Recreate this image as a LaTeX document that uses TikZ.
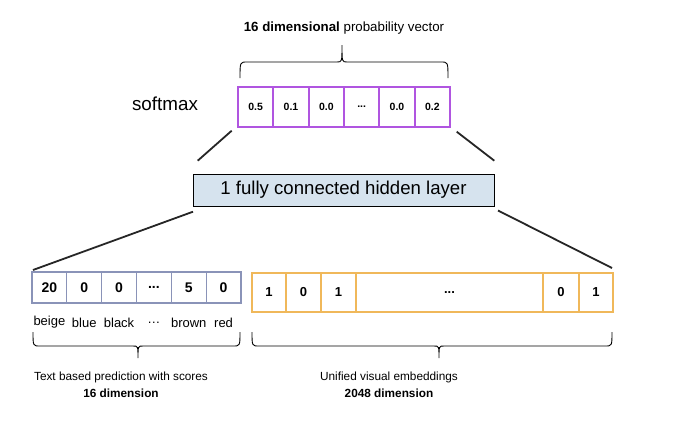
\documentclass[tikz,border=0pt]{standalone}
\usepackage{fontspec}
\setmainfont{Liberation Sans}
\definecolor{purp}{HTML}{B055E0}
\definecolor{orng}{HTML}{F0B85A}
\definecolor{slate}{HTML}{8A93B8}
\definecolor{hidfill}{HTML}{D6E3EE}
\newcommand{\mybrace}[6]{% x1 x2 yend yline ytip xtip
  \draw[line width=0.9pt] (#1,#3) .. controls (#1,#4) .. (#1+7,#4) -- (#6-5,#4)
     .. controls (#6,#4) .. (#6,#5) .. controls (#6,#4) .. (#6+5,#4) -- (#2-7,#4)
     .. controls (#2,#4) .. (#2,#3);}
\newcommand{\threedots}{...}
\begin{document}
\begin{tikzpicture}[x=1pt,y=-1pt,
  pcell/.style={draw=purp,line width=2pt,minimum width=35.33pt,minimum height=40pt,inner sep=0pt,font=\bfseries\fontsize{10.5}{12}\selectfont},
  scell/.style={draw=slate,line width=1.3pt,minimum width=34.83pt,minimum height=31pt,inner sep=0pt,font=\bfseries\fontsize{14}{16}\selectfont},
  ocell/.style={draw=orng,line width=2.5pt,minimum height=39pt,inner sep=0pt,font=\bfseries\fontsize{13}{15}\selectfont},
  lab/.style={inner sep=0pt,font=\fontsize{13}{15}\selectfont},
  captext/.style={inner sep=0pt,align=center,font=\fontsize{11.8}{17}\selectfont},
  fan/.style={line width=1.8pt,black!85}]
\useasboundingbox[fill=white] (0,0) rectangle (697,439);
% top vector
\foreach \i/\t in {1/0.5,2/0.1,3/0.0,4/\threedots,5/0.0,6/0.2}{
  \node[pcell] (p\i) at ({238+35.33*(\i-0.5)},107) {\t};}
\node[inner sep=0pt,font=\fontsize{13.3}{15}\selectfont] (ptitle) at (344,28) {\textbf{16 dimensional} probability vector};
\mybrace{240}{448}{78}{62}{45}{342}
\node[inner sep=0pt,font=\fontsize{18.8}{20}\selectfont] (soft) at (165,104) {softmax};
% hidden layer
\node[draw=black,line width=1pt,fill=hidfill,minimum width=301pt,minimum height=32pt,inner sep=0pt,font=\fontsize{18.6}{20}\selectfont] (hid) at (343.5,190) {1 fully connected hidden layer};
% left vector
\foreach \i/\t/\l in {1/20/beige,2/0/blue,3/0/black,4/\threedots/\ldots,5/5/brown,6/0/red}{
  \node[scell] (s\i) at ({32+34.83*(\i-0.5)},287.5) {\t};
  \node[lab] (l\i) at ({32+34.83*(\i-0.5)},322.5) {\l};}
\mybrace{33}{240}{332}{346}{358}{138}
\node[captext] (lcap) at (121,385) {Text based prediction with scores\\\textbf{16 dimension}};
% right vector
\node[ocell,minimum width=34pt] (o1) at (269,292.5) {1};
\node[ocell,minimum width=35pt] (o2) at (303.5,292.5) {0};
\node[ocell,minimum width=35pt] (o3) at (338.5,292.5) {1};
\node[ocell,minimum width=187pt] (o4) at (449.5,292.5) {\threedots};
\node[ocell,minimum width=36pt] (o5) at (561,292.5) {0};
\node[ocell,minimum width=34pt] (o6) at (596,292.5) {1};
\mybrace{252}{612}{332}{346}{358}{439}
\node[captext] (rcap) at (389,385) {Unified visual embeddings\\\textbf{2048 dimension}};
% fan lines
\coordinate (a1) at (197.7,160.7); \coordinate (a2) at (231.7,130.7);
\coordinate (b1) at (456.7,131.7); \coordinate (b2) at (494.3,160.7);
\coordinate (c1) at (193,211.7); \coordinate (c2) at (33,270);
\coordinate (d1) at (498,210.5); \coordinate (d2) at (612,268);
\draw[fan] (a1) -- (a2);
\draw[fan] (b1) -- (b2);
\draw[fan] (c1) -- (c2);
\draw[fan] (d1) -- (d2);
\end{tikzpicture}
\end{document}
